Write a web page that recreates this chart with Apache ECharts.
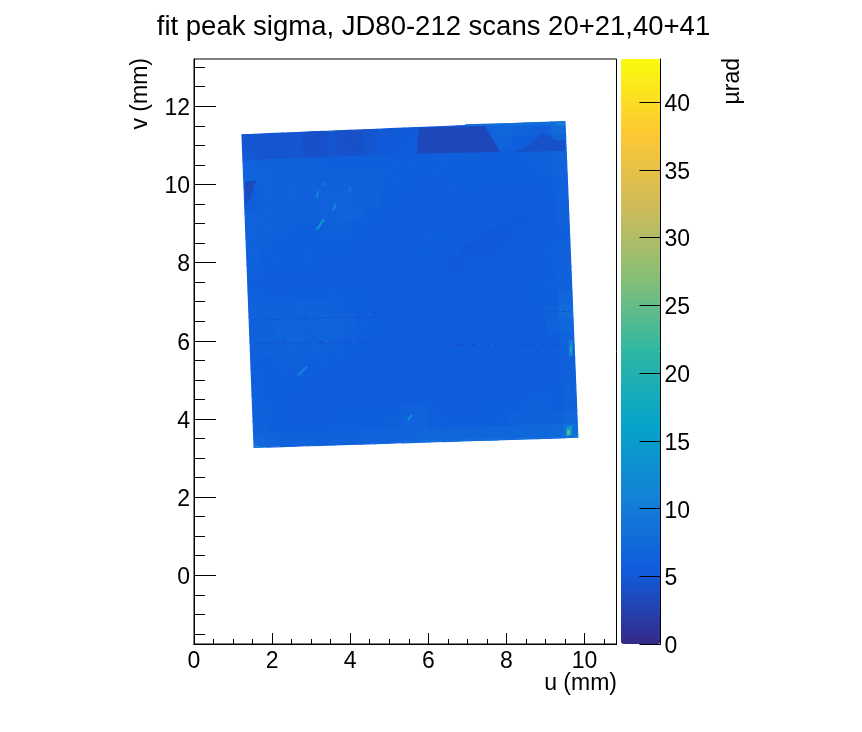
<!DOCTYPE html>
<html><head><meta charset="utf-8">
<style>html,body{margin:0;padding:0;background:#fff}#c{width:862px;height:732px}</style>
<script src="https://cdn.jsdelivr.net/npm/echarts@6/dist/echarts.min.js"></script>
</head><body><div id="c"></div>
<script>
const titleText = "fit peak sigma, JD80-212 scans 20+21,40+41";
const uMajor = [0,2,4,6,8,10];
const uMinor = [0.5,1,1.5,2.5,3,3.5,4.5,5,5.5,6.5,7,7.5,8.5,9,9.5,10.5];
const vMajor = [0,2,4,6,8,10,12];
const vMinor = [-1.5,-1,-0.5,0.5,1,1.5,2.5,3,3.5,4.5,5,5.5,6.5,7,7.5,8.5,9,9.5,10.5,11,11.5,12.5,13];
const barTicks = [0,5,10,15,20,25,30,35,40];
const palette = ["#352a87","#0f5cdd","#1481d6","#06a4ca","#2eb7a4","#87bf77","#d1bb59","#fec832","#f9fb0e"];
// plate outline in mm: top-left, top-right, bottom-right, bottom-left
const plateCorners = [[1.23,11.27],[9.50,11.61],[9.83,3.53],[1.54,3.27]];
// fit sigma (urad) read across the plate, top row first
const sigmaRows = [
[4.7,4.6,4.5,4.5,4.5,4.6,4.6,4.2,4.1,4.6,5.0,5.2,5.3,5.4,5.4,5.5,5.5,5.6,6.4,6.8,6.6,6.2,6.0,7.4],
[5.0,4.7,4.6,4.6,4.7,4.7,4.6,4.3,4.2,4.7,5.1,5.3,5.4,5.4,5.5,5.5,5.6,5.6,6.2,6.6,5.8,5.4,5.2,6.6],
[6.4,6.2,6.1,6.0,6.0,6.0,5.9,5.8,5.8,5.9,5.9,5.9,5.8,5.8,5.9,5.9,5.9,5.9,5.9,5.9,5.9,6.0,6.0,6.6],
[6.6,6.4,6.2,6.2,6.2,6.0,6.0,6.1,6.0,6.0,5.9,5.8,5.8,5.8,5.8,5.8,5.8,5.8,5.8,5.8,5.8,5.9,6.0,6.4],
[5.6,6.2,6.3,6.2,6.1,6.1,6.2,6.3,6.1,6.0,5.8,5.7,5.7,5.6,5.6,5.7,5.7,5.7,5.7,5.7,5.7,5.7,5.8,6.2],
[5.9,6.3,6.2,6.1,6.0,6.1,6.4,6.6,6.2,6.2,5.8,5.7,5.6,5.6,5.6,5.6,5.6,5.7,5.6,5.5,5.5,5.5,5.7,6.1],
[6.4,6.3,6.1,6.0,6.0,6.2,6.3,6.4,6.3,5.9,5.7,5.6,5.6,5.6,5.6,5.6,5.6,5.6,5.5,5.5,5.4,5.4,5.6,6.0],
[6.3,6.1,6.0,5.9,5.9,5.9,6.0,6.0,5.9,5.8,5.6,5.6,5.6,5.6,5.6,5.6,5.5,5.5,5.4,5.3,5.3,5.4,5.6,6.0],
[6.2,6.0,5.8,5.8,5.9,5.9,5.8,5.8,5.7,5.6,5.6,5.6,5.6,5.7,5.7,5.6,5.5,5.3,5.2,5.3,5.4,5.5,5.6,5.9],
[6.1,5.9,5.8,5.7,5.7,5.8,5.7,5.7,5.6,5.6,5.5,5.6,5.7,5.7,5.6,5.4,5.2,5.2,5.3,5.4,5.5,5.6,5.7,6.0],
[6.0,5.8,5.8,5.7,5.7,5.7,5.6,5.6,5.5,5.5,5.5,5.6,5.6,5.5,5.3,5.2,5.3,5.4,5.5,5.5,5.5,5.6,5.7,6.0],
[5.8,5.6,5.6,5.5,5.5,5.5,5.4,5.4,5.4,5.4,5.4,5.4,5.4,5.4,5.4,5.4,5.4,5.5,5.5,5.5,5.5,5.6,5.7,6.2],
[6.0,5.9,5.9,5.9,5.9,5.8,5.8,5.7,5.7,5.6,5.6,5.6,5.6,5.6,5.6,5.6,5.6,5.6,5.6,5.6,5.7,5.7,5.8,6.3],
[6.3,6.1,6.1,6.2,6.3,6.2,6.0,5.9,5.8,5.7,5.6,5.6,5.6,5.6,5.6,5.6,5.6,5.6,5.6,5.6,5.7,5.7,5.9,6.8],
[6.2,6.3,6.4,6.4,6.4,6.5,6.4,6.1,5.9,5.7,5.6,5.6,5.6,5.5,5.5,5.5,5.5,5.5,5.5,5.6,5.6,5.7,6.2,7.8],
[6.1,6.2,6.5,6.5,6.2,6.6,6.4,6.0,5.8,5.7,5.6,5.5,5.5,5.5,5.5,5.5,5.4,5.4,5.5,5.5,5.5,5.6,6.1,7.0],
[6.0,6.1,6.2,6.2,6.1,6.2,6.0,5.8,5.7,5.6,5.5,5.5,5.5,5.5,5.6,5.5,5.4,5.4,5.4,5.4,5.5,5.5,5.8,6.4],
[5.9,5.9,6.0,6.0,5.9,5.9,5.8,5.7,5.6,5.5,5.5,5.5,5.5,5.5,5.5,5.4,5.4,5.4,5.4,5.4,5.4,5.5,5.7,6.1],
[5.9,5.8,5.8,5.8,5.8,5.7,5.6,5.6,5.5,5.5,5.5,5.4,5.4,5.4,5.4,5.4,5.4,5.4,5.4,5.4,5.4,5.5,5.6,6.0],
[6.0,5.8,5.7,5.7,5.6,5.6,5.6,5.6,5.6,5.5,5.5,5.4,5.4,5.4,5.4,5.4,5.4,5.4,5.4,5.4,5.5,5.5,5.7,6.0],
[6.0,5.8,5.7,5.6,5.6,5.6,5.6,5.6,5.7,5.6,5.5,5.5,5.5,5.5,5.5,5.4,5.5,5.6,5.5,5.6,5.8,5.8,5.8,6.1],
[6.0,5.8,5.7,5.6,5.6,5.6,5.7,5.7,5.8,5.7,5.8,6.0,6.1,5.8,5.6,5.6,5.6,5.7,5.7,5.8,6.0,6.0,5.9,6.3],
[6.1,5.9,5.8,5.7,5.7,5.7,5.7,5.8,5.9,5.8,6.0,6.3,6.4,6.0,5.7,5.7,5.8,5.8,5.9,6.1,6.1,6.0,6.1,7.0],
[6.8,6.4,6.2,6.2,6.2,6.2,6.3,6.3,6.4,6.4,6.5,6.6,6.8,6.7,6.7,6.7,6.8,6.9,7.0,7.0,7.0,7.0,7.4,8.5]
];
// localized features: polygon in mm with its sigma
const featureShapes = [
 [[[1.23,11.27],[2.76,11.33],[3.1,11.36],[3.1,10.76],[2.76,10.75],[1.26,10.87]],4.7],
 [[[2.76,11.34],[3.40,11.37],[3.40,10.70],[2.79,10.72]],4.2],
 [[[5.76,11.45],[7.45,11.50],[7.84,10.83],[5.71,10.79]],3.2],
 [[[8.17,10.83],[8.60,11.01],[8.94,11.32],[9.27,11.14],[9.50,11.14],[9.50,10.86]],4.2],
 [[[6.94,11.54],[9.50,11.61],[9.50,11.52],[6.94,11.49]],8],
 [[[9.27,11.60],[9.50,11.61],[9.50,11.50],[9.27,11.51]],10],
 [[[1.31,10.06],[1.59,10.11],[1.44,9.66],[1.33,9.48]],3.4],
 [[[1.42,6.54],[9.65,6.77],[9.65,6.74],[1.42,6.51]],5.0],
 [[[1.56,5.97],[9.65,5.88],[9.65,5.85],[1.56,5.94]],5.0],
 [[[3.12,8.86],[3.30,9.12],[3.35,9.09],[3.18,8.84]],14],
 [[[3.53,9.35],[3.61,9.53],[3.66,9.50],[3.59,9.32]],11],
 [[[3.12,9.65],[3.15,9.83],[3.20,9.83],[3.18,9.65]],11],
 [[[3.25,10.01],[3.38,10.06],[3.38,10.01],[3.28,9.96]],9],
 [[[3.94,9.81],[4.00,9.96],[4.05,9.93],[4.00,9.81]],9],
 [[[2.64,5.13],[2.87,5.36],[2.92,5.33],[2.69,5.10]],11],
 [[[5.45,3.97],[5.56,4.13],[5.61,4.10],[5.51,3.95]],12],
 [[[9.60,6.02],[9.70,6.02],[9.70,5.61],[9.60,5.61]],11],
 [[[9.63,5.85],[9.68,5.85],[9.68,5.70],[9.63,5.70]],18],
 [[[9.53,3.79],[9.68,3.84],[9.68,3.61],[9.53,3.56]],15],
 [[[9.55,3.72],[9.63,3.72],[9.63,3.58],[9.55,3.58]],24],
 [[[7.48,3.48],[7.71,3.50],[7.73,3.45],[7.50,3.44]],12],
 [[[1.54,3.36],[1.74,3.28],[1.69,3.27],[1.56,3.27]],12],
 [[[5.40,3.44],[9.58,3.56],[9.58,3.51],[5.40,3.39]],8]
];
// isolated bad-fit pixels along the two scan seams: u, v, sigma
const seamPixels = [
[1.82,6.34,2],[2.09,6.51,10],[2.31,6.55,10],[2.57,6.53,9],[2.83,6.62,2],[3.01,6.60,9],[3.23,6.63,9],[3.44,6.69,9],[3.78,6.64,2.5],[4.01,6.68,2.5],[4.51,6.68,10],[4.64,6.72,2],[5.23,6.75,11],[5.87,6.75,2],[6.02,6.73,11],[6.23,6.73,2.5],[6.54,6.73,10],[7.09,6.78,2],[7.44,6.73,11],[8.28,6.75,2.5],[8.73,6.78,2],[9.48,6.76,3],[9.56,6.76,11],
[1.78,6.04,14],[1.90,6.01,10],[2.25,6.01,2.5],[2.31,6.01,2.5],[2.50,5.99,10],[2.67,5.98,10],[3.06,5.96,14],[3.25,5.98,3],[3.41,5.99,15],[4.08,5.96,12],[4.28,5.95,3],[4.42,5.95,3],[4.72,5.94,15],[5.46,5.91,11],[5.74,5.91,11],[5.81,5.91,2],[6.00,5.91,2.5],[6.15,5.90,11],[6.34,5.91,11],[6.74,5.89,1.5],[6.85,5.89,2],[6.98,5.89,15],[7.14,5.89,3],[7.22,5.89,2.5],[7.32,5.89,14],[7.52,5.89,3],[7.64,5.89,11],[7.71,5.89,2],[7.92,5.89,10],[8.02,5.89,10],[8.38,5.89,2],[8.66,5.89,3],[8.80,5.89,14],[9.16,5.87,3],[9.48,5.87,10]
];

const font = "'Liberation Sans', Arial, Helvetica, sans-serif";
const black = "#000";
const nRows = sigmaRows.length, nCols = sigmaRows[0].length;
function platePoint(s, t) {
  const [a,b,c,d] = plateCorners;
  return [0,1].map(k => (1-t)*((1-s)*a[k]+s*b[k]) + t*((1-s)*d[k]+s*c[k]));
}
const cellData = [];
sigmaRows.forEach((row,r) => row.forEach((val,c) => cellData.push([r,c,val])));
const shapeData = featureShapes.map((f,i) => [i,0,f[1]]);

function polyItem(points, api, lw) {
  const color = api.visual('color');
  return { type:'polygon', shape:{points:points.map(p => api.coord(p))},
           style:{fill:color, stroke:color, lineWidth:lw} };
}
function renderCell(params, api) {
  const r = api.value(0), c = api.value(1);
  return polyItem([
    platePoint(c/nCols, r/nRows), platePoint((c+1)/nCols, r/nRows),
    platePoint((c+1)/nCols, (r+1)/nRows), platePoint(c/nCols, (r+1)/nRows)], api, 1.2);
}
function renderShape(params, api) {
  return polyItem(featureShapes[api.value(0)][0], api, 0);
}
const labelStyle = {color:black, fontFamily:font, fontSize:23,
  rich:{a:{color:black, fontFamily:font, fontSize:23, padding:[5,0,0,0]}}, formatter:v=>'{a|'+v+'}'};
const U_MAX = 10.82, V_MIN = -1.76, V_MAX = 13.21;
function xAx(values, len, labels) {
  return {type:'value', gridIndex:0, min:0, max:U_MAX, position:'bottom',
    axisLine:{show:true, onZero:false, lineStyle:{color:black,width:1}},
    axisTick:{show:true, inside:true, length:len, customValues:values, lineStyle:{color:black,width:1}},
    axisLabel:labels ? {show:true, customValues:values, margin:6, color:black, fontFamily:font, fontSize:23, formatter:v=>String(v)} : {show:false},
    splitLine:{show:false}};
}
function yAx(values, len, labels) {
  return {type:'value', gridIndex:0, min:V_MIN, max:V_MAX, position:'left',
    axisLine:{show:true, onZero:false, lineStyle:{color:black,width:1}},
    axisTick:{show:true, inside:true, length:len, customValues:values, lineStyle:{color:black,width:1}},
    axisLabel:labels ? {show:true, customValues:values, margin:4, ...labelStyle} : {show:false},
    splitLine:{show:false}};
}
const axisText = (text,x,y,rotate,align) => ({type:'text', x, y, rotation:rotate,
  style:{text, fill:black, font:"23px "+font, textAlign:align, textVerticalAlign:'middle'}, silent:true});

const chart = echarts.init(document.getElementById('c'), null, {renderer:'canvas'});
chart.setOption({
  animation:false, backgroundColor:'#fff',
  title:{text:titleText, left:428.5, top:8, textAlign:'center',
    textStyle:{color:black, fontFamily:font, fontSize:27.5, fontWeight:'normal'}},
  grid:[
    {left:194, top:59, width:422.5, height:585, show:true, borderColor:black, borderWidth:1, backgroundColor:'transparent'},
    {left:621, top:59, width:39.5, height:585.3, show:false}
  ],
  xAxis:[xAx(uMajor,11,true), xAx(uMinor,5,false),
    {type:'value', gridIndex:1, min:0, max:1, show:false}],
  yAxis:[yAx(vMajor,22,true), yAx(vMinor,11,false),
    {type:'value', gridIndex:1, min:0, max:43.17, position:'right', z:6,
     axisLine:{show:true, onZero:false, lineStyle:{color:black,width:1}},
     axisTick:{show:true, inside:true, length:21, customValues:barTicks, lineStyle:{color:black,width:1}},
     axisLabel:{show:true, customValues:barTicks, margin:4, ...labelStyle},
     splitLine:{show:false}}],
  visualMap:{type:'continuous', min:0, max:43.17, dimension:2, seriesIndex:[0,1,2], calculable:false,
    show:true, left:621, top:59, itemWidth:39.5, itemHeight:585, padding:0, text:null, z:1, realtime:false,
    inRange:{color:palette}, borderWidth:0},
  series:[
    {type:'custom', name:'sigma', xAxisIndex:0, yAxisIndex:0, data:cellData, renderItem:renderCell, clip:true, encode:{x:0,y:1}, silent:true},
    {type:'custom', name:'features', xAxisIndex:0, yAxisIndex:0, data:shapeData, renderItem:renderShape, clip:true, encode:{x:0,y:1}, silent:true},
    {type:'scatter', name:'seam', xAxisIndex:0, yAxisIndex:0, data:seamPixels, symbol:'rect', symbolSize:1.2, silent:true}
  ],
  graphic:[
    axisText('u (mm)',617,684,0,'right'),
    axisText('v (mm)',141,58,Math.PI/2,'right'),
    axisText('µrad',733,58,Math.PI/2,'right')
  ]
});
</script></body></html>
